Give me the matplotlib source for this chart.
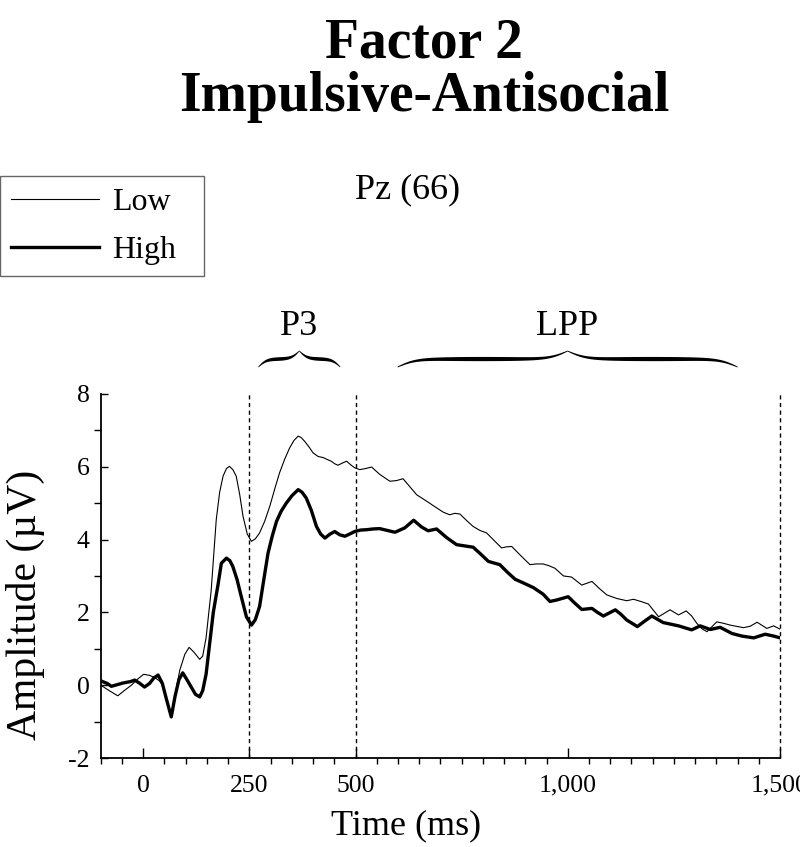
import numpy as np
import matplotlib.pyplot as plt
from matplotlib.ticker import FixedLocator, MultipleLocator
import matplotlib.transforms as mtransforms

plt.rcParams['font.family'] = ['Liberation Serif', 'DejaVu Serif']
plt.rcParams['axes.unicode_minus'] = False

# Low group (thin line)
low_t = [-100, -80, -60, -45, -28, -12, 1, 15, 27, 38, 46, 56, 66, 76, 86, 98, 108, 120,
         133, 140, 148, 160, 172, 180, 188, 196, 203, 211, 219, 227, 235, 245, 255, 264,
         274, 286, 298, 310, 321, 333, 345, 355, 365, 372, 380, 390, 400, 412, 424, 433,
         443, 451, 459, 469, 479, 489, 498, 510, 524, 538, 557, 581, 597, 612, 628, 644,
         668, 691, 707, 722, 734, 746, 762, 777, 793, 809, 826, 844, 856, 868, 890, 911,
         926, 942, 956, 970, 990, 1009, 1033, 1057, 1075, 1092, 1116, 1139, 1155, 1172,
         1190, 1214, 1241, 1261, 1279, 1292, 1304, 1316, 1328, 1351, 1367, 1383, 1414,
         1430, 1446, 1469, 1485, 1500]
low_v = [0.0, -0.15, -0.29, -0.15, 0.0, 0.18, 0.30, 0.27, 0.21, 0.12, 0.0, -0.45, -0.85,
         -0.2, 0.41, 0.85, 1.04, 0.9, 0.71, 0.8, 1.3, 2.6, 4.55, 5.3, 5.74, 5.95, 6.01,
         5.92, 5.74, 5.25, 4.64, 4.15, 3.95, 4.02, 4.18, 4.5, 4.91, 5.4, 5.83, 6.2, 6.52,
         6.72, 6.84, 6.8, 6.70, 6.55, 6.38, 6.28, 6.25, 6.2, 6.15, 6.08, 6.04, 6.1, 6.15,
         6.05, 5.97, 5.92, 5.95, 5.99, 5.79, 5.60, 5.62, 5.67, 5.45, 5.23, 5.05, 4.87,
         4.75, 4.68, 4.72, 4.70, 4.52, 4.36, 4.25, 4.18, 3.98, 3.77, 3.80, 3.81, 3.55,
         3.31, 3.33, 3.33, 3.28, 3.21, 3.0, 2.97, 2.75, 2.85, 2.65, 2.48, 2.38, 2.32,
         2.36, 2.3, 2.23, 1.88, 2.07, 1.93, 2.04, 1.9, 1.70, 1.55, 1.47, 1.74, 1.7, 1.65,
         1.58, 1.62, 1.73, 1.56, 1.63, 1.54]

# High group (thick line)
high_t = [-100, -85, -75, -60, -48, -30, -20, -8, 3, 15, 25, 35, 45, 55, 66, 75, 84, 93,
          103, 113, 123, 133, 140, 148, 156, 165, 176, 184, 196, 204, 211, 221, 231, 243,
          255, 264, 274, 284, 294, 304, 314, 325, 337, 350, 365, 374, 384, 396, 408, 418,
          428, 440, 451, 463, 475, 486, 498, 512, 526, 541, 557, 575, 593, 616, 637, 655,
          671, 691, 715, 738, 760, 777, 795, 813, 840, 858, 876, 897, 919, 942, 958, 974,
          1001, 1017, 1033, 1057, 1070, 1084, 1112, 1125, 1139, 1164, 1180, 1198, 1225,
          1261, 1292, 1312, 1336, 1359, 1387, 1410, 1438, 1465, 1485, 1500]
high_v = [0.12, 0.05, -0.03, 0.02, 0.06, 0.1, 0.14, 0.05, -0.05, 0.05, 0.2, 0.28, 0.05,
          -0.4, -0.87, -0.3, 0.15, 0.34, 0.15, -0.05, -0.25, -0.32, -0.15, 0.3, 1.1, 2.0,
          2.75, 3.35, 3.49, 3.42, 3.26, 2.9, 2.43, 1.88, 1.65, 1.8, 2.16, 2.9, 3.63, 4.1,
          4.50, 4.78, 5.00, 5.2, 5.37, 5.3, 5.14, 4.8, 4.36, 4.15, 4.04, 4.15, 4.22, 4.13,
          4.09, 4.15, 4.22, 4.26, 4.27, 4.29, 4.30, 4.25, 4.20, 4.32, 4.53, 4.35, 4.24,
          4.29, 4.05, 3.86, 3.82, 3.79, 3.6, 3.40, 3.31, 3.1, 2.91, 2.8, 2.68, 2.5, 2.30,
          2.34, 2.43, 2.25, 2.08, 2.11, 2.0, 1.90, 2.07, 1.95, 1.79, 1.61, 1.75, 1.90, 1.72,
          1.63, 1.52, 1.63, 1.53, 1.59, 1.42, 1.35, 1.30, 1.40, 1.35, 1.30]

x_ticks = [0, 250, 500, 1000, 1500]
x_labels = ['0', '250', '500', '1,000', '1,500']
y_ticks = [-2, 0, 2, 4, 6, 8]
marker_lines = [250, 500, 1500]
windows = [('P3', 270, 463), ('LPP', 598, 1399)]

fig = plt.figure(figsize=(8, 8.47), dpi=100)
ax = fig.add_axes([0.126, 0.105, 0.849, 0.43])

ax.plot(low_t, low_v, color='black', lw=0.8, label='Low')
ax.plot(high_t, high_v, color='black', lw=2.4, label='High')
for m in marker_lines:
    ax.axvline(m, color='black', lw=1.0, ls=(0, (3, 2.5)), clip_on=False)

ax.set_xlim(-100, 1500)
ax.set_ylim(-2, 8)
ax.spines['top'].set_visible(False)
ax.spines['right'].set_visible(False)
ax.spines['left'].set_linewidth(1.3)
ax.spines['bottom'].set_linewidth(1.3)

ax.xaxis.set_major_locator(FixedLocator(x_ticks))
ax.set_xticklabels(x_labels)
ax.xaxis.set_minor_locator(MultipleLocator(50))
ax.yaxis.set_major_locator(FixedLocator(y_ticks))
ax.yaxis.set_minor_locator(MultipleLocator(1))
ax.tick_params(axis='both', direction='in', labelsize=18.5, width=1.0, color='black')
ax.tick_params(axis='x', which='major', length=7, pad=12)
ax.tick_params(axis='x', which='minor', length=4, width=1.0)
ax.tick_params(axis='y', which='both', length=5, width=1.0, pad=8)

ax.set_xlabel('Time (ms)', fontsize=26)
ax.xaxis.set_label_coords(0.449, -0.141)
ax.set_ylabel('Amplitude (µV)', fontsize=30)
ax.yaxis.set_label_coords(-0.082, 0.42)

# curly braces over the time windows
trans = mtransforms.blended_transform_factory(ax.transData, ax.transAxes)
ax_h_px = ax.get_position().height * fig.get_figheight() * fig.dpi
ax_w_px = ax.get_position().width * fig.get_figwidth() * fig.dpi
px_per_ms = ax_w_px / 1600.0
for name, t0, t1 in windows:
    half_px = (t1 - t0) * px_per_ms / 2
    k = max(half_px / 18.0, 5.0)
    s = np.linspace(0, 1, 300)
    yh = 0.5 * (np.tanh(k * s) + np.tanh(k * (s - 1))) + 0.5
    thick = 0.8 + (3.4 if half_px > 80 else 2.8) * np.sin(np.pi * s) ** 0.7
    xs = np.concatenate([t0 + s * (t1 - t0) / 2, t1 - s[::-1] * (t1 - t0) / 2])
    ys = np.concatenate([yh, yh[::-1]]) * 16
    th = np.concatenate([thick, thick[::-1]])
    base = 1.075
    top = base + (ys + th / 2) / ax_h_px
    bot = base + (ys - th / 2) / ax_h_px
    ax.fill_between(xs, bot, top, transform=trans, color='black', lw=0, clip_on=False)
    ax.text((t0 + t1) / 2, 1.185, name, transform=trans, ha='center', va='center',
            fontsize=26)

fig.text(424 / 800, 1 - 58 / 847, 'Factor 2', ha='center', va='baseline',
         fontsize=40, weight='bold')
fig.text(424 / 800, 1 - 111 / 847, 'Impulsive-Antisocial', ha='center', va='baseline',
         fontsize=40, weight='bold')
fig.text(408 / 800, 1 - 190 / 847, 'Pz (66)', ha='center', va='center', fontsize=26)

leg = fig.legend(loc='upper left', bbox_to_anchor=(0.0, 1 - 275 / 847, 204 / 800, 99 / 847),
                 mode='expand', fontsize=23, frameon=True, fancybox=False,
                 edgecolor='#404040', handlelength=2.75, handletextpad=0.4,
                 labelspacing=0.58, borderpad=0.36, borderaxespad=0)
leg.get_frame().set_linewidth(1.0)

plt.savefig('out.png', dpi=100)
